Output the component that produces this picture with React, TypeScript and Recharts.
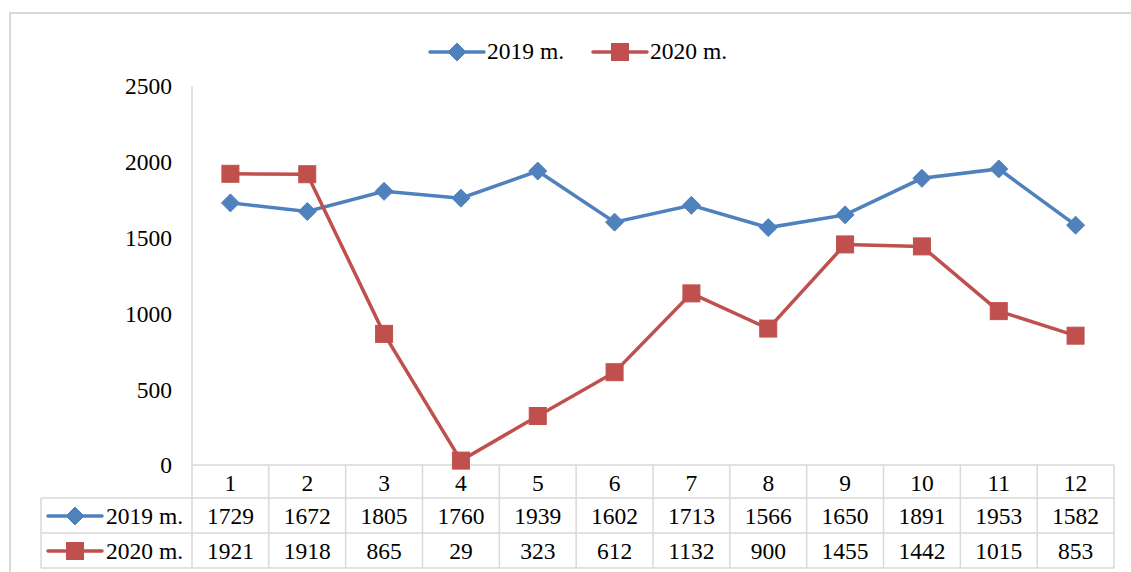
import { LineChart, Line, XAxis, YAxis, Legend } from 'recharts';

const months = ['1', '2', '3', '4', '5', '6', '7', '8', '9', '10', '11', '12'];
const values2019 = [1729, 1672, 1805, 1760, 1939, 1602, 1713, 1566, 1650, 1891, 1953, 1582];
const values2020 = [1921, 1918, 865, 29, 323, 612, 1132, 900, 1455, 1442, 1015, 853];
const yTicks = [0, 500, 1000, 1500, 2000, 2500];
const seriesNames = ['2019 m.', '2020 m.'];

const rows = months.map((m, i) => ({ month: m, y2019: values2019[i], y2020: values2020[i] }));

const W = 1131;
const H = 572;
const FONT = '"Liberation Serif", "Times New Roman", serif';
const FS = 23.5;
const GRID = '#d9d9d9';
const BLUE = '#4f81bd';
const RED = '#c0504d';

const MARGIN = { top: 86, right: 17, bottom: 0, left: 132 };
const Y_WIDTH = 60;
const PLOT_LEFT = MARGIN.left + Y_WIDTH;
const PLOT_RIGHT = W - MARGIN.right;
const COL = (PLOT_RIGHT - PLOT_LEFT) / months.length;
const TABLE_LEFT = 41;

const Diamond = ({ cx, cy, color, r = 9 }: { cx: number; cy: number; color: string; r?: number }) => (
  <path d={`M${cx},${cy - r}L${cx + r},${cy}L${cx},${cy + r}L${cx - r},${cy}Z`} fill={color} stroke={color} strokeWidth={1} />
);

const Square = ({ cx, cy, color, s = 8.5 }: { cx: number; cy: number; color: string; s?: number }) => (
  <rect x={cx - s} y={cy - s} width={s * 2} height={s * 2} fill={color} stroke={color} strokeWidth={1} />
);

const Marker = ({ kind, cx, cy }: { kind: number; cx: number; cy: number }) =>
  kind === 0 ? <Diamond cx={cx} cy={cy} color={BLUE} /> : <Square cx={cx} cy={cy} color={RED} />;

const Sample = ({ kind, x, y }: { kind: number; x: number; y: number }) => (
  <g>
    <line x1={x} x2={x + 54} y1={y} y2={y} stroke={kind === 0 ? BLUE : RED} strokeWidth={3.5} strokeLinecap="round" />
    <Marker kind={kind} cx={x + 27} cy={y} />
  </g>
);

const TableTick = (props: any) => {
  const { x, y, index } = props;
  const half = COL / 2;
  const r1 = y + 33;
  const r2 = y + 68;
  const r3 = y + 103;
  const txt = { fontFamily: FONT, fontSize: FS, fill: '#000', textAnchor: 'middle' as const, dominantBaseline: 'central' as const };
  return (
    <g>
      <line x1={x - half} x2={x - half} y1={y} y2={r3} stroke={GRID} strokeWidth={1.5} />
      {index === months.length - 1 && <line x1={x + half} x2={x + half} y1={y} y2={r3} stroke={GRID} strokeWidth={1.5} />}
      {[r1, r2, r3].map((ry) => (
        <line key={ry} x1={x - half} x2={x + half} y1={ry} y2={ry} stroke={GRID} strokeWidth={1.5} />
      ))}
      <text {...txt} x={x} y={y + 18}>{months[index]}</text>
      <text {...txt} x={x} y={y + 51}>{values2019[index]}</text>
      <text {...txt} x={x} y={y + 86}>{values2020[index]}</text>
      {index === 0 && (
        <g>
          {[r1, r2, r3].map((ry) => (
            <line key={ry} x1={TABLE_LEFT} x2={x - half} y1={ry} y2={ry} stroke={GRID} strokeWidth={1.5} />
          ))}
          <line x1={TABLE_LEFT} x2={TABLE_LEFT} y1={r1} y2={r3} stroke={GRID} strokeWidth={1.5} />
          <Sample kind={0} x={TABLE_LEFT + 7} y={y + 51} />
          <Sample kind={1} x={TABLE_LEFT + 7} y={y + 86} />
          <text {...txt} textAnchor="start" x={TABLE_LEFT + 65} y={y + 51}>{seriesNames[0]}</text>
          <text {...txt} textAnchor="start" x={TABLE_LEFT + 65} y={y + 86}>{seriesNames[1]}</text>
        </g>
      )}
    </g>
  );
};

const TopLegend = (props: any) => {
  const payload = props.payload || [];
  return (
    <div style={{ display: 'flex', alignItems: 'center', fontFamily: FONT, fontSize: FS, color: '#000', whiteSpace: 'nowrap' }}>
      {payload.map((p: any, i: number) => (
        <div key={p.value} style={{ display: 'flex', alignItems: 'center', marginRight: i === 0 ? 27 : 0 }}>
          <svg width={58} height={22} style={{ marginRight: 1 }}>
            <Sample kind={i} x={2} y={11} />
          </svg>
          <span>{p.value}</span>
        </div>
      ))}
    </div>
  );
};

export default function App() {
  return (
    <div style={{ position: 'relative', width: W, height: H, overflow: 'hidden', background: '#fff' }}>
      <style>{'body{margin:0}'}</style>
      <div
        style={{
          position: 'absolute',
          left: 9,
          top: 12,
          width: 1300,
          height: 800,
          borderLeft: `2px solid ${GRID}`,
          borderTop: `2px solid ${GRID}`,
        }}
      />
      <LineChart width={W} height={H} data={rows} margin={MARGIN}>
        <XAxis
          dataKey="month"
          scale="band"
          height={107}
          interval={0}
          tickSize={0}
          tickMargin={0}
          tickLine={false}
          axisLine={{ stroke: GRID, strokeWidth: 1.5 }}
          tick={<TableTick />}
        />
        <YAxis
          width={Y_WIDTH}
          domain={[0, 2500]}
          ticks={yTicks}
          interval={0}
          tickLine={false}
          tickMargin={14}
          axisLine={{ stroke: GRID, strokeWidth: 1.5 }}
          tick={{ fill: '#000', fontSize: FS, fontFamily: FONT }}
        />
        <Legend
          verticalAlign="middle"
          align="center"
          content={<TopLegend />}
          wrapperStyle={{ top: 38, left: 428, width: 'auto' }}
        />
        <Line
          dataKey="y2019"
          name={seriesNames[0]}
          stroke={BLUE}
          strokeWidth={3.5}
          isAnimationActive={false}
          dot={(p: any) => <Marker key={`a${p.index}`} kind={0} cx={p.cx} cy={p.cy} />}
        />
        <Line
          dataKey="y2020"
          name={seriesNames[1]}
          stroke={RED}
          strokeWidth={3.5}
          isAnimationActive={false}
          dot={(p: any) => <Marker key={`b${p.index}`} kind={1} cx={p.cx} cy={p.cy} />}
        />
      </LineChart>
    </div>
  );
}
